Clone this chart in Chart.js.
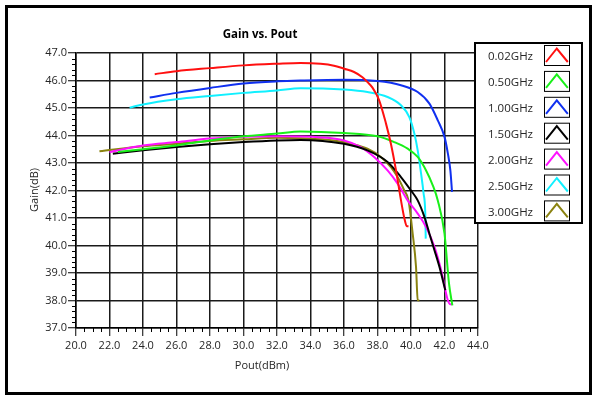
<!DOCTYPE html>
<html>
<head>
<meta charset="utf-8">
<script src="https://cdn.jsdelivr.net/npm/chart.js@4/dist/chart.umd.min.js"></script>
<style>
  html, body { margin: 0; padding: 0; background: #ffffff; }
  #wrap { width: 596px; height: 396px; position: relative; }
</style>
</head>
<body>
<div id="wrap"><canvas id="c" width="596" height="396"></canvas></div>
<script>
// Gain vs. output power, one curve per frequency
const seriesNames  = ['0.02GHz', '0.50GHz', '1.00GHz', '1.50GHz', '2.00GHz', '2.50GHz', '3.00GHz'];
const seriesColors = ['#ff1010', '#19f019', '#1030f0', '#000000', '#ff10ff', '#10f0ff', '#8a8210'];

const pout002 = [24.7, 26, 28, 30, 32, 33.4, 34.6, 35.4, 36.0, 36.6, 37.1, 37.4, 37.7, 38.1, 38.5, 38.8, 39.1, 39.4, 39.6, 39.75, 39.85];
const gain002 = [46.23, 46.34, 46.45, 46.55, 46.61, 46.64, 46.61, 46.54, 46.43, 46.31, 46.12, 45.94, 45.74, 45.28, 44.45, 43.7, 42.75, 41.65, 41.0, 40.7, 40.7];

const pout050 = [22.5, 24, 26, 28, 30, 32, 33.4, 36, 38, 39, 39.8, 40.4, 40.9, 41.3, 41.6, 42.0, 42.27, 42.47];
const gain050 = [43.4, 43.5, 43.64, 43.82, 43.97, 44.07, 44.15, 44.09, 43.97, 43.76, 43.52, 43.22, 42.73, 42.19, 41.64, 40.43, 38.61, 37.82];

const pout100 = [24.4, 26, 28, 30, 32, 33.4, 36, 38, 39.4, 40.4, 41.1, 41.6, 42.0, 42.2, 42.35, 42.45];
const gain100 = [45.38, 45.55, 45.73, 45.89, 45.97, 46.0, 46.03, 45.98, 45.83, 45.58, 45.16, 44.55, 43.95, 43.35, 42.73, 41.95];

const pout150 = [22.2, 24, 26, 28, 30, 32, 33.4, 36, 37.4, 38.6, 39.4, 40.0, 40.4, 40.8, 41.1, 41.4, 41.7, 42.05];
const gain150 = [43.34, 43.46, 43.58, 43.68, 43.76, 43.82, 43.84, 43.7, 43.46, 43.04, 42.49, 42.0, 41.64, 41.04, 40.43, 39.83, 39.22, 38.37];

const pout200 = [22.0, 24, 26, 28, 30, 32, 34.6, 36, 37, 37.8, 38.6, 39.2, 39.8, 40.4, 40.9, 41.4, 41.8, 42.2, 42.35, 42.47];
const gain200 = [43.4, 43.64, 43.76, 43.89, 43.95, 43.97, 43.93, 43.82, 43.58, 43.22, 42.73, 42.25, 41.64, 41.16, 40.67, 39.95, 39.1, 38.01, 37.86, 37.86];

const pout250 = [23.2, 24, 26, 28, 30, 32, 33.4, 36, 37.4, 38.6, 39.4, 39.9, 40.2, 40.4, 40.6, 40.75, 40.85, 40.88];
const gain250 = [45.01, 45.13, 45.32, 45.44, 45.55, 45.64, 45.72, 45.67, 45.58, 45.4, 45.1, 44.67, 44.07, 43.46, 42.62, 41.9, 41.2, 40.25];

const pout300 = [21.4, 24, 26, 28, 30, 32, 33.4, 35.4, 36.4, 37.4, 38.2, 38.8, 39.2, 39.6, 39.85, 40.1, 40.3, 40.4, 40.5];
const gain300 = [43.43, 43.61, 43.7, 43.8, 43.86, 43.92, 43.9, 43.82, 43.7, 43.52, 43.22, 42.85, 42.49, 42.0, 41.64, 40.43, 39.22, 38.01, 38.0];

const xTicks = [20, 22, 24, 26, 28, 30, 32, 34, 36, 38, 40, 42, 44];
const yTicks = [37, 38, 39, 40, 41, 42, 43, 44, 45, 46, 47];

const poutSets = [pout002, pout050, pout100, pout150, pout200, pout250, pout300];
const gainSets = [gain002, gain050, gain100, gain150, gain200, gain250, gain300];

const FONT = "'Open Sans', 'DejaVu Sans', sans-serif";
const TEXT = '#262626';

const datasets = seriesNames.map((name, i) => ({
  label: name,
  data: poutSets[i].map((x, k) => ({ x: x, y: gainSets[i][k] })),
  borderColor: seriesColors[i],
  backgroundColor: seriesColors[i],
  borderWidth: 2,
  pointRadius: 0,
  showLine: true,
  cubicInterpolationMode: 'monotone'
}));

// frame, titles, minor ticks and the boxed legend
const decorations = {
  id: 'decorations',
  afterDraw(chart) {
    const ctx = chart.ctx;
    const xs = chart.scales.x, ys = chart.scales.y;
    const area = chart.chartArea;
    ctx.save();

    // outer frame
    ctx.strokeStyle = '#000';
    ctx.lineWidth = 3;
    ctx.strokeRect(6.5, 6.5, 584, 387);

    // minor ticks
    ctx.lineWidth = 1;
    ctx.strokeStyle = '#000';
    ctx.beginPath();
    for (let v = 37; v < 47; v += 0.2) {
      const r = Math.round(v * 10) / 10;
      if (Math.abs(r - Math.round(r)) < 1e-6) continue;
      const py = Math.round(ys.getPixelForValue(r)) + 0.5;
      ctx.moveTo(area.left - 4, py); ctx.lineTo(area.left, py);
    }
    for (let v = 20; v < 44; v += 0.5) {
      if (Math.abs(v % 2) < 1e-6) continue;
      const px = Math.round(xs.getPixelForValue(v)) + 0.5;
      ctx.moveTo(px, area.bottom); ctx.lineTo(px, area.bottom + 4);
    }
    ctx.stroke();

    // titles
    ctx.fillStyle = '#000';
    ctx.font = 'bold 11.5px ' + FONT;
    ctx.textAlign = 'center';
    ctx.textBaseline = 'middle';
    ctx.fillText('Gain vs. Pout', 260, 34.5);

    ctx.fillStyle = TEXT;
    ctx.font = '11px ' + FONT;
    ctx.fillText('Pout(dBm)', 262, 366);
    ctx.save();
    ctx.translate(35, 190);
    ctx.rotate(-Math.PI / 2);
    ctx.fillText('Gain(dB)', 0, 0);
    ctx.restore();

    // legend box
    const lx = 475, ly = 43, lw = 107, lh = 180;
    ctx.fillStyle = '#fff';
    ctx.fillRect(lx, ly, lw, lh);
    ctx.strokeStyle = '#000';
    ctx.lineWidth = 2;
    ctx.strokeRect(lx, ly, lw, lh);

    const rowStep = 25.9;
    seriesNames.forEach((name, i) => {
      const top = 45 + i * rowStep;
      ctx.fillStyle = TEXT;
      ctx.font = '11.5px ' + FONT;
      ctx.textAlign = 'right';
      ctx.textBaseline = 'middle';
      ctx.fillText(name, 533, top + 12);

      ctx.strokeStyle = '#000';
      ctx.lineWidth = 1;
      ctx.strokeRect(544.5, top + 0.5, 25, 20);

      ctx.strokeStyle = seriesColors[i];
      ctx.lineWidth = 2;
      ctx.beginPath();
      ctx.moveTo(546, top + 17);
      ctx.lineTo(556.8, top + 3.5);
      ctx.lineTo(567.8, top + 17);
      ctx.stroke();
    });

    ctx.restore();
  }
};

new Chart(document.getElementById('c'), {
  type: 'scatter',
  data: { datasets: datasets },
  options: {
    responsive: false,
    animation: false,
    devicePixelRatio: 1,
    layout: { padding: { left: 6, right: 118, top: 53, bottom: 6 } },
    plugins: {
      legend: { display: false },
      title: { display: false },
      tooltip: { enabled: false }
    },
    scales: {
      x: {
        type: 'linear',
        min: 20, max: 44,
        afterBuildTicks: s => { s.ticks = xTicks.map(v => ({ value: v })); },
        afterFit: s => { s.height = 62; },
        ticks: {
          color: TEXT,
          font: { family: FONT, size: 11 },
          padding: 3,
          maxRotation: 0,
          callback: v => Number(v).toFixed(1)
        },
        grid: { color: '#1a1a1a', lineWidth: 1.5, tickLength: 8, tickColor: '#000', tickWidth: 1 },
        border: { color: '#000', width: 1.5 }
      },
      y: {
        type: 'linear',
        min: 37, max: 47,
        afterBuildTicks: s => { s.ticks = yTicks.map(v => ({ value: v })); },
        afterFit: s => { s.width = 70; },
        ticks: {
          color: TEXT,
          font: { family: FONT, size: 11 },
          padding: 1,
          callback: v => Number(v).toFixed(1)
        },
        grid: { color: '#1a1a1a', lineWidth: 1.5, tickLength: 8, tickColor: '#000', tickWidth: 1 },
        border: { color: '#000', width: 1.5 }
      }
    }
  },
  plugins: [decorations]
});
</script>
</body>
</html>
